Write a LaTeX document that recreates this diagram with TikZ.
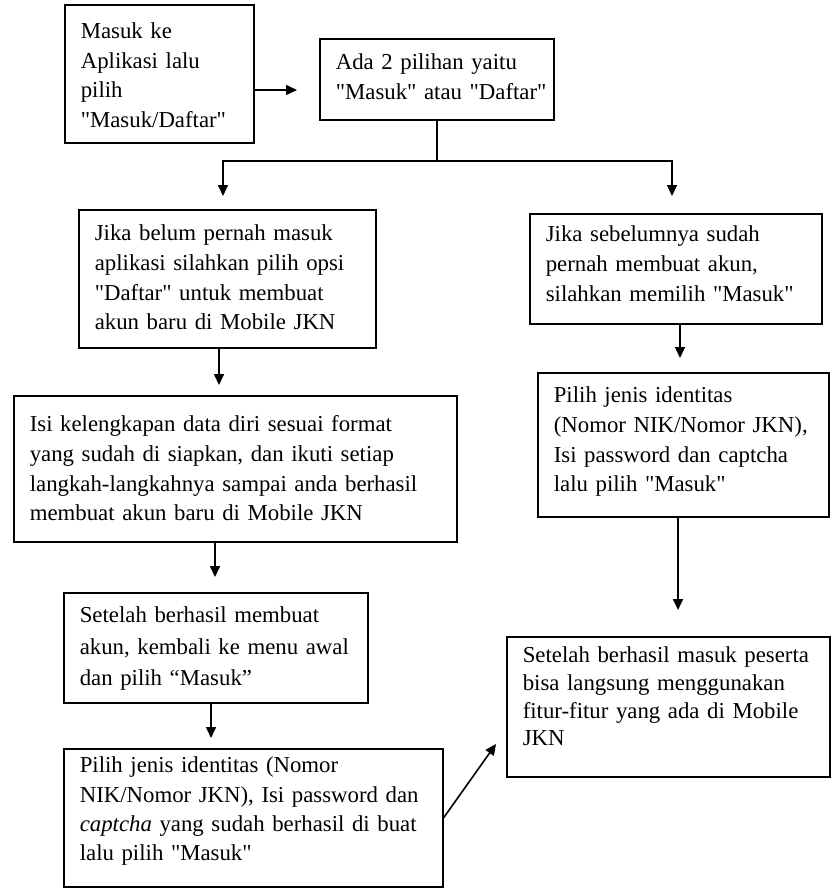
\documentclass[tikz,border=0pt]{standalone}
\usepackage{fontspec}
\setmainfont{Liberation Serif}[Ligatures=TeXOff]
\usetikzlibrary{arrows.meta}

\begin{document}
\begin{tikzpicture}[x=0.5pt, y=-0.5pt,
    stepbox/.style={draw, line width=0.8pt, anchor=north west,
        inner xsep=4pt, inner ysep=3pt, text height=11pt,
        font=\fontsize{11.4pt}{14.8pt}\selectfont,
        execute at begin node={\raggedright\leftskip=4pt
            \rightskip=0pt plus 1fil minus 6pt\hyphenpenalty=10000}},
    arr/.style={line width=0.8pt, -{Triangle[length=5.5pt,width=5pt]}},
]
\fill[white] (0,0) rectangle (831,888);
\useasboundingbox (0,0) rectangle (831,888);

\node[stepbox, text width=86.5pt, text height=14pt, text depth=49pt] (masuk) at (64,4)
    {Masuk ke\\Aplikasi lalu\\pilih\\"Masuk/Daftar"};
\node[stepbox, text width=109pt, text height=12.5pt, text depth=22pt] (pilihan) at (319,38)
    {Ada 2 pilihan yaitu\\"Masuk" atau "Daftar"};
\node[stepbox, text width=140.5pt, text height=12.5pt, text depth=50.5pt] (belum) at (78,209)
    {Jika belum pernah masuk\\aplikasi silahkan pilih opsi\\"Daftar" untuk membuat\\akun baru di Mobile JKN};
\node[stepbox, text width=138pt, text depth=38pt] (sudah) at (529,213)
    {Jika sebelumnya sudah\\pernah membuat akun,\\silahkan memilih "Masuk"};
\node[stepbox, text width=213.5pt, text height=15pt, text depth=52pt] (isidata) at (13,395)
    {Isi kelengkapan data diri sesuai format\\yang sudah di siapkan, dan ikuti setiap\\langkah-langkahnya sampai anda berhasil\\membuat akun baru di Mobile JKN};
\node[stepbox, text width=137.5pt, text height=12pt, text depth=54pt] (pilihR) at (537,372)
    {Pilih jenis identitas\\(Nomor NIK/Nomor JKN),\\Isi password dan captcha\\lalu pilih "Masuk"};
\node[stepbox, text width=153.5pt, text height=10pt, text depth=54pt,
    font=\fontsize{11.4pt}{13.8pt}\selectfont] (fitur) at (506,636)
    {Setelah berhasil masuk peserta\\bisa langsung menggunakan\\fitur-fitur yang ada di Mobile\\JKN};
\node[stepbox, text width=144pt, text height=12pt, text depth=37pt,
    font=\fontsize{11.4pt}{15.6pt}\selectfont] (kembali) at (63,592)
    {Setelah berhasil membuat\\akun, kembali ke menu awal\\dan pilih “Masuk”};
\node[stepbox, text width=181.5pt, text height=9pt, text depth=54pt,
    font=\fontsize{11.4pt}{14.6pt}\selectfont] (pilihL) at (63,748)
    {Pilih jenis identitas (Nomor\\NIK/Nomor JKN), Isi password dan\\\textit{captcha} yang sudah berhasil di buat\\lalu pilih "Masuk"};

% arrow ends
\coordinate (t1) at (297,90);
\coordinate (jl) at (223,161);
\coordinate (jr) at (672,161);
\coordinate (tl) at (223,196);
\coordinate (tr) at (672,196);
\coordinate (t3) at (219,385);
\coordinate (t4) at (680,358);
\coordinate (t5) at (678,610);
\coordinate (t6) at (215,577);
\coordinate (t7) at (211,738);
\coordinate (t8) at (496,744);

\draw[arr] (masuk.east |- t1) -- (t1);
\draw[arr] (pilihan.south) |- (jl) -- (tl);
\draw[arr] (pilihan.south) |- (jr) -- (tr);
\draw[arr] (belum.south -| t3) -- (t3);
\draw[arr] (sudah.south -| t4) -- (t4);
\draw[arr] (pilihR.south -| t5) -- (t5);
\draw[arr] (isidata.south -| t6) -- (t6);
\draw[arr] (kembali.south -| t7) -- (t7);
\draw[arr] (pilihL.east) -- (t8);
\end{tikzpicture}
\end{document}
